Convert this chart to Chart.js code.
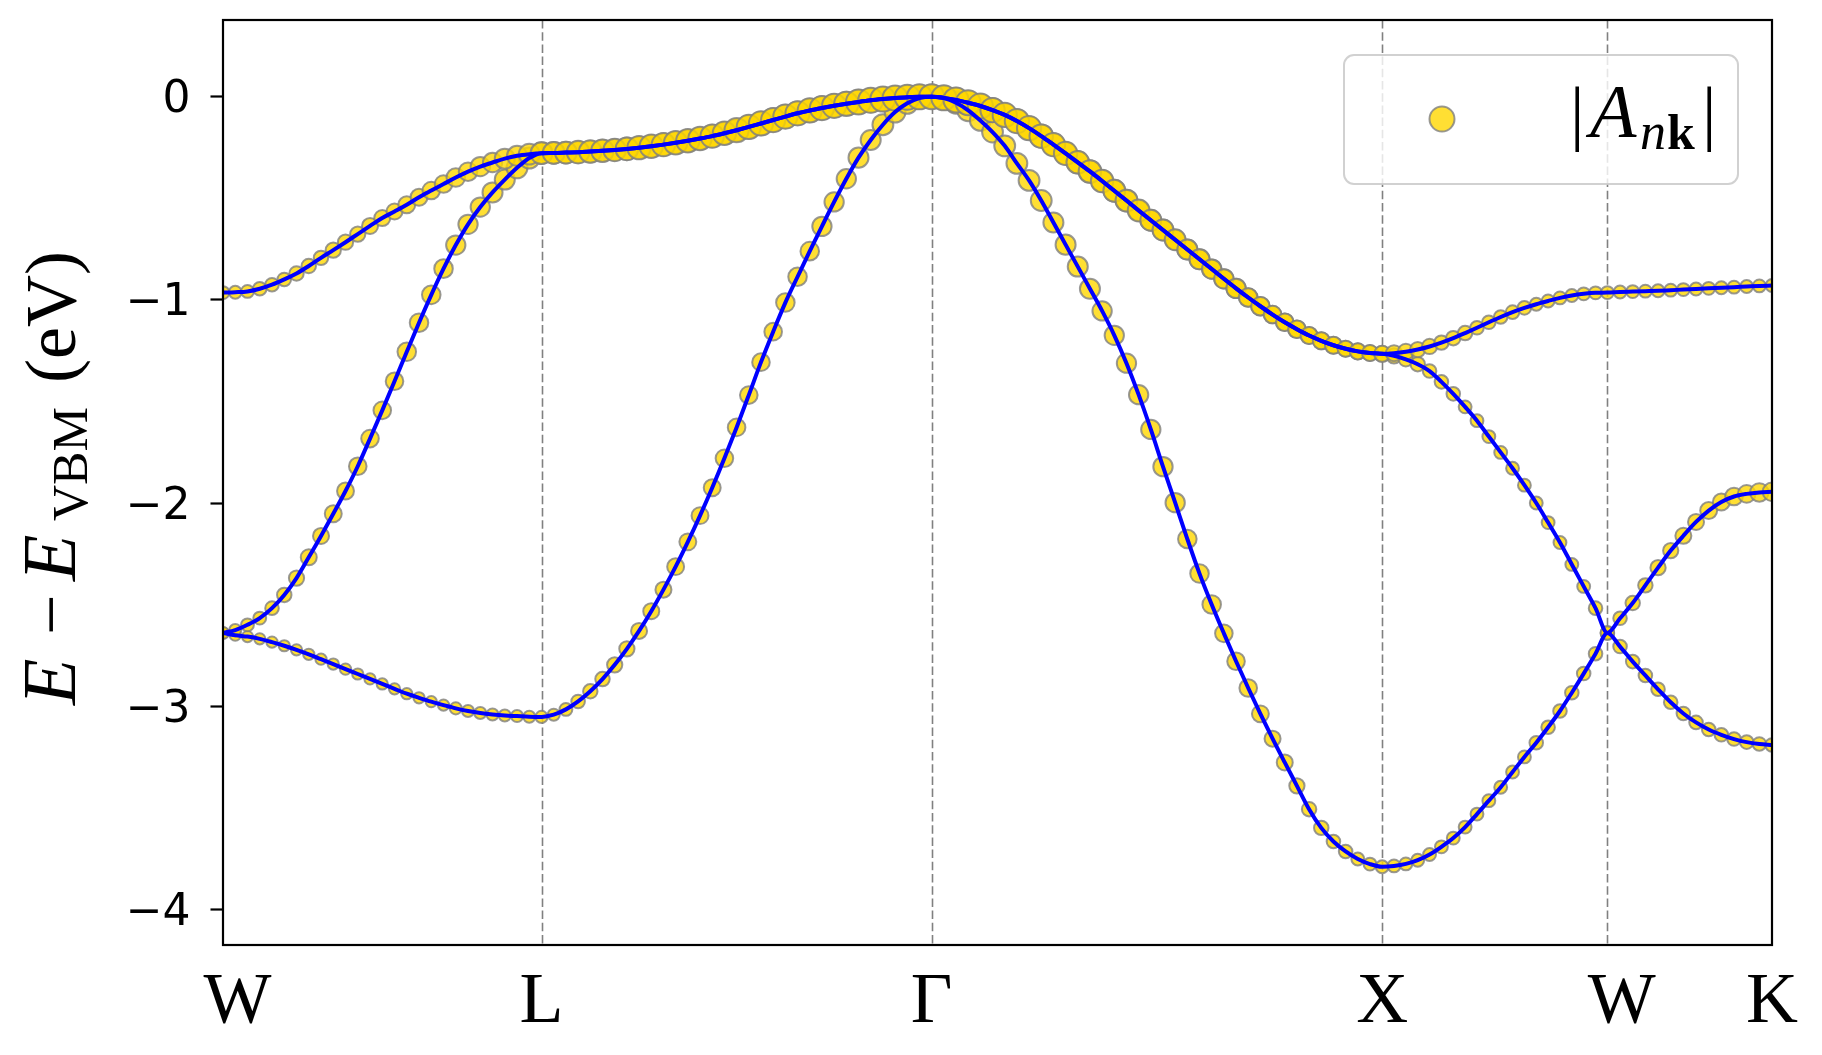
<!DOCTYPE html>
<html>
<head>
<meta charset="utf-8">
<title>Band structure</title>
<script src="https://cdn.jsdelivr.net/npm/chart.js@4.4.1/dist/chart.umd.min.js"></script>
<style>
  html, body { margin: 0; padding: 0; background: #fff; }
  canvas { display: block; }
</style>
</head>
<body>
<canvas id="bands" width="1822" height="1055"></canvas>
<script>
// high-symmetry path W-L-G-X-W-K, distances in 2pi/a
const pathLabels = ['\u2009\u2009W', 'L', '\u0393', 'X', '\u2009\u2009W', 'K'];
const pathTicks = [0, 0.7071, 1.5731, 2.5731, 3.0731, 3.4385];
const segmentSteps = [26, 32, 37, 19, 13];
const yTickValues = [-4, -3, -2, -1, 0];

// E - E_VBM (eV) along the path, lowest band first
const band1 = [
  -2.638, -2.649, -2.656, -2.667, -2.683, -2.701, -2.721, -2.743, -2.767, -2.791, -2.816, -2.840, -2.864, -2.889,
  -2.913, -2.937, -2.957, -2.976, -2.993, -3.009, -3.022, -3.032, -3.039, -3.044, -3.047, -3.050, -3.051,
  -3.040, -3.014, -2.975, -2.925, -2.865, -2.795, -2.716, -2.628, -2.531, -2.425, -2.312, -2.190, -2.061, -1.924,
  -1.779, -1.627, -1.468, -1.306, -1.156, -1.013, -0.886, -0.760, -0.638, -0.518, -0.404, -0.300, -0.213, -0.138,
  -0.076, -0.033, -0.007, 0.000,
  -0.007, -0.030, -0.067, -0.117, -0.174, -0.242, -0.328, -0.412, -0.511, -0.619, -0.728, -0.836, -0.945, -1.054,
  -1.174, -1.311, -1.466, -1.637, -1.820, -1.997, -2.176, -2.346, -2.498, -2.640, -2.777, -2.909, -3.036, -3.158,
  -3.275, -3.390, -3.505, -3.597, -3.664, -3.713, -3.750, -3.775, -3.788,
  -3.784, -3.774, -3.756, -3.728, -3.690, -3.647, -3.593, -3.529, -3.463, -3.397, -3.322, -3.248, -3.178, -3.102,
  -3.022, -2.932, -2.838, -2.740, -2.638,
  -2.705, -2.779, -2.847, -2.915, -2.979, -3.034, -3.078, -3.113, -3.139, -3.160, -3.175, -3.184, -3.189
];
const band2 = [
  -2.638, -2.624, -2.598, -2.565, -2.516, -2.451, -2.368, -2.266, -2.161, -2.052, -1.940, -1.818, -1.682, -1.543,
  -1.400, -1.255, -1.112, -0.975, -0.846, -0.730, -0.628, -0.543, -0.471, -0.408, -0.350, -0.302, -0.278,
  -0.277, -0.275, -0.273, -0.270, -0.266, -0.262, -0.257, -0.251, -0.244, -0.236, -0.227, -0.217, -0.206, -0.194,
  -0.180, -0.165, -0.149, -0.132, -0.115, -0.098, -0.082, -0.068, -0.056, -0.045, -0.035, -0.026, -0.018, -0.012,
  -0.007, -0.003, -0.001, 0.000,
  -0.006, -0.016, -0.030, -0.046, -0.066, -0.090, -0.120, -0.155, -0.194, -0.236, -0.279, -0.323, -0.368, -0.415,
  -0.463, -0.511, -0.560, -0.608, -0.656, -0.704, -0.752, -0.800, -0.848, -0.896, -0.943, -0.988, -1.031, -1.072,
  -1.110, -1.144, -1.175, -1.201, -1.223, -1.240, -1.253, -1.261, -1.265,
  -1.275, -1.292, -1.316, -1.350, -1.403, -1.462, -1.526, -1.594, -1.672, -1.750, -1.828, -1.911, -1.999, -2.095,
  -2.193, -2.301, -2.409, -2.516, -2.638,
  -2.566, -2.491, -2.404, -2.317, -2.233, -2.160, -2.092, -2.036, -1.994, -1.967, -1.954, -1.947, -1.944
];
const band3 = [
  -0.964, -0.962, -0.958, -0.945, -0.925, -0.899, -0.870, -0.833, -0.793, -0.755, -0.716, -0.676, -0.636, -0.597,
  -0.565, -0.532, -0.495, -0.462, -0.430, -0.398, -0.369, -0.344, -0.324, -0.305, -0.291, -0.283, -0.278,
  -0.277, -0.275, -0.273, -0.270, -0.266, -0.262, -0.257, -0.251, -0.244, -0.236, -0.227, -0.217, -0.206, -0.194,
  -0.180, -0.165, -0.149, -0.132, -0.115, -0.098, -0.082, -0.068, -0.056, -0.045, -0.035, -0.026, -0.018, -0.012,
  -0.007, -0.003, -0.001, 0.000,
  -0.006, -0.016, -0.030, -0.046, -0.066, -0.090, -0.120, -0.155, -0.194, -0.236, -0.279, -0.323, -0.368, -0.415,
  -0.463, -0.511, -0.560, -0.608, -0.656, -0.704, -0.752, -0.800, -0.848, -0.896, -0.943, -0.988, -1.031, -1.072,
  -1.110, -1.144, -1.175, -1.201, -1.223, -1.240, -1.253, -1.261, -1.265,
  -1.262, -1.255, -1.244, -1.229, -1.210, -1.188, -1.163, -1.137, -1.110, -1.084, -1.060, -1.039, -1.021, -1.005,
  -0.990, -0.978, -0.970, -0.965, -0.964,
  -0.961, -0.959, -0.957, -0.955, -0.952, -0.949, -0.946, -0.943, -0.940, -0.937, -0.934, -0.931, -0.929
];

// |A_nk| at the same k-points
const weight1 = [
  0.14, 0.14, 0.14, 0.14, 0.14, 0.14, 0.14, 0.14, 0.14, 0.14, 0.14, 0.14, 0.14, 0.14, 0.14, 0.14, 0.14, 0.14, 0.14,
  0.17, 0.17, 0.17, 0.17, 0.17, 0.17, 0.17, 0.17,
  0.17, 0.20, 0.23, 0.27, 0.27, 0.31, 0.31, 0.35, 0.35, 0.35, 0.40, 0.40, 0.40, 0.40, 0.44, 0.44, 0.44, 0.44, 0.44,
  0.50, 0.50, 0.50, 0.55, 0.55, 0.55, 0.60, 0.60, 0.66, 0.66, 0.66, 0.73, 0.73,
  0.73, 0.73, 0.73, 0.66, 0.66, 0.66, 0.66, 0.66, 0.66, 0.60, 0.60, 0.60, 0.60, 0.55, 0.55, 0.55, 0.55, 0.55, 0.55,
  0.55, 0.50, 0.50, 0.50, 0.44, 0.44, 0.44, 0.40, 0.35, 0.35, 0.31, 0.27, 0.27, 0.23, 0.23, 0.20, 0.20, 0.20,
  0.20, 0.20, 0.20, 0.20, 0.20, 0.20, 0.20, 0.20, 0.20, 0.20, 0.20, 0.20, 0.23, 0.23, 0.23, 0.23, 0.23, 0.23, 0.23,
  0.23, 0.23, 0.23, 0.23, 0.23, 0.23, 0.23, 0.23, 0.23, 0.23, 0.23, 0.23, 0.23
];
const weight2 = [
  0.17, 0.17, 0.20, 0.20, 0.23, 0.27, 0.31, 0.35, 0.35, 0.40, 0.40, 0.44, 0.44, 0.44, 0.44, 0.50, 0.50, 0.50, 0.50,
  0.55, 0.55, 0.55, 0.60, 0.60, 0.66, 0.66, 0.73,
  0.73, 0.73, 0.73, 0.73, 0.73, 0.73, 0.79, 0.79, 0.79, 0.79, 0.79, 0.79, 0.79, 0.79, 0.79, 0.79, 0.86, 0.86, 0.86,
  0.86, 0.86, 0.86, 0.86, 0.86, 0.93, 0.93, 0.93, 0.93, 0.93, 0.93, 0.93, 0.93,
  0.93, 0.93, 0.93, 0.93, 0.93, 0.86, 0.86, 0.86, 0.86, 0.79, 0.79, 0.79, 0.79, 0.73, 0.73, 0.73, 0.66, 0.66, 0.66,
  0.60, 0.60, 0.60, 0.55, 0.55, 0.55, 0.50, 0.50, 0.44, 0.44, 0.44, 0.40, 0.40, 0.40, 0.35, 0.35, 0.35, 0.35,
  0.31, 0.27, 0.27, 0.23, 0.23, 0.23, 0.20, 0.20, 0.20, 0.20, 0.20, 0.20, 0.20, 0.20, 0.20, 0.20, 0.20, 0.23, 0.23,
  0.23, 0.27, 0.27, 0.31, 0.31, 0.35, 0.35, 0.40, 0.40, 0.44, 0.44, 0.50, 0.50
];
const weight3 = [
  0.20, 0.20, 0.20, 0.23, 0.23, 0.23, 0.27, 0.27, 0.27, 0.31, 0.31, 0.31, 0.35, 0.35, 0.35, 0.40, 0.40, 0.44, 0.44,
  0.50, 0.50, 0.55, 0.55, 0.60, 0.60, 0.66, 0.73,
  0.73, 0.73, 0.79, 0.79, 0.79, 0.79, 0.79, 0.86, 0.86, 0.86, 0.86, 0.86, 0.86, 0.86, 0.86, 0.93, 0.93, 0.93, 0.93,
  0.93, 0.93, 0.93, 0.93, 0.93, 0.93, 1.00, 1.00, 1.00, 1.00, 1.00, 1.00, 1.00,
  1.00, 1.00, 1.00, 1.00, 0.93, 0.93, 0.93, 0.93, 0.86, 0.86, 0.86, 0.79, 0.79, 0.79, 0.73, 0.73, 0.73, 0.66, 0.66,
  0.66, 0.60, 0.60, 0.55, 0.55, 0.55, 0.50, 0.50, 0.44, 0.44, 0.44, 0.40, 0.40, 0.40, 0.35, 0.35, 0.35, 0.35,
  0.35, 0.35, 0.31, 0.31, 0.27, 0.27, 0.27, 0.23, 0.23, 0.23, 0.23, 0.23, 0.20, 0.20, 0.20, 0.20, 0.20, 0.20, 0.20,
  0.20, 0.20, 0.20, 0.20, 0.20, 0.20, 0.20, 0.20, 0.20, 0.20, 0.20, 0.20, 0.20
];

// k-point grid: evenly spaced inside every segment of the path
const kPoints = [pathTicks[0]];
segmentSteps.forEach((n, s) => {
  const k0 = pathTicks[s], k1 = pathTicks[s + 1];
  for (let i = 1; i <= n; i++) kPoints.push(k0 + (k1 - k0) * i / n);
});

const bands = [band1, band2, band3];
const weights = [weight1, weight2, weight3];

const gold = 'rgba(255, 215, 0, 0.8)';
const edge = 'rgba(128, 128, 128, 0.8)';
const serif = '"Liberation Serif", "DejaVu Serif", serif';

const toPoints = band => band.map((e, i) => ({ x: kPoints[i], y: e }));
const radiusFor = w => 1.5 + 11 * Math.sqrt(w);

const markerSets = bands.map((b, n) => ({
  data: toPoints(b),
  showLine: false,
  pointRadius: weights[n].map(radiusFor),
  pointBackgroundColor: gold,
  pointBorderColor: edge,
  pointBorderWidth: 2,
  order: 5 - n,
  clip: 0
}));

const lineSets = bands.map(b => ({
  data: toPoints(b),
  showLine: true,
  borderColor: '#0000ff',
  borderWidth: 4,
  pointRadius: 0,
  cubicInterpolationMode: 'monotone',
  order: 1,
  clip: 0
}));

// dashed lines at the inner high-symmetry points
const kLines = {
  id: 'kLines',
  beforeDatasetsDraw(chart) {
    const { ctx, chartArea: a } = chart;
    const xs = chart.scales.x;
    ctx.save();
    ctx.strokeStyle = '#808080';
    ctx.lineWidth = 1.6;
    ctx.setLineDash([8.5, 3.7]);
    pathTicks.slice(1, -1).forEach(k => {
      const px = Math.round(xs.getPixelForValue(k)) + 0.5;
      ctx.beginPath();
      ctx.moveTo(px, a.top);
      ctx.lineTo(px, a.bottom);
      ctx.stroke();
    });
    ctx.restore();
  }
};

const frame = {
  id: 'frame',
  afterDraw(chart) {
    const { ctx, chartArea: a } = chart;
    ctx.save();
    ctx.strokeStyle = '#000';
    ctx.lineWidth = 2.2;
    ctx.strokeRect(a.left, a.top, a.right - a.left, a.bottom - a.top);
    ctx.restore();
  }
};

// y title: E - E_VBM (eV), rotated
const axisTitle = {
  id: 'axisTitle',
  afterDraw(chart) {
    const ctx = chart.ctx;
    const parts = [
      { text: 'E', font: `italic 76px ${serif}`, at: 0, dy: 0 },
      { text: '\u2212', font: `72px ${serif}`, at: 70, dy: 0 },
      { text: 'E', font: `italic 76px ${serif}`, at: 124, dy: 0 },
      { text: 'VBM', font: `50px ${serif}`, at: 184, dy: 12 },
      { text: '(eV)', font: `72px ${serif}`, at: 322, dy: 0 }
    ];
    ctx.save();
    ctx.translate(75, 705);
    ctx.rotate(-Math.PI / 2);
    ctx.fillStyle = '#000';
    ctx.textBaseline = 'alphabetic';
    parts.forEach(p => {
      ctx.font = p.font;
      ctx.fillText(p.text, p.at, p.dy);
    });
    ctx.restore();
  }
};

const legendBox = {
  id: 'legendBox',
  afterDraw(chart) {
    const ctx = chart.ctx;
    ctx.save();
    ctx.beginPath();
    ctx.roundRect(1344, 55, 394, 129, 10);
    ctx.fillStyle = 'rgba(255, 255, 255, 0.8)';
    ctx.fill();
    ctx.lineWidth = 2;
    ctx.strokeStyle = 'rgba(204, 204, 204, 0.9)';
    ctx.stroke();

    ctx.beginPath();
    ctx.arc(1442, 119, 12.5, 0, Math.PI * 2);
    ctx.fillStyle = gold;
    ctx.fill();
    ctx.strokeStyle = edge;
    ctx.lineWidth = 2;
    ctx.stroke();

    const parts = [
      { text: '|', font: `72px ${serif}`, at: 1570, dy: 0 },
      { text: 'A', font: `italic 76px ${serif}`, at: 1590, dy: 0 },
      { text: 'n', font: `italic 52px ${serif}`, at: 1640, dy: 12 },
      { text: 'k', font: `bold 50px ${serif}`, at: 1667, dy: 12 },
      { text: '|', font: `72px ${serif}`, at: 1702, dy: 0 }
    ];
    ctx.fillStyle = '#000';
    ctx.textBaseline = 'alphabetic';
    parts.forEach(p => {
      ctx.font = p.font;
      ctx.fillText(p.text, p.at, 137 + p.dy);
    });
    ctx.restore();
  }
};

new Chart(document.getElementById('bands'), {
  type: 'scatter',
  data: { datasets: [...lineSets, ...markerSets] },
  options: {
    responsive: false,
    animation: false,
    devicePixelRatio: 1,
    events: [],
    layout: { padding: { left: 0, right: 50, top: 20, bottom: 0 } },
    plugins: { legend: { display: false }, tooltip: { enabled: false } },
    scales: {
      x: {
        type: 'linear',
        min: pathTicks[0],
        max: pathTicks[pathTicks.length - 1],
        afterBuildTicks: scale => { scale.ticks = pathTicks.map(v => ({ value: v })); },
        afterFit: scale => {
          scale.height = 110;
          scale.paddingLeft = 0;
          scale.paddingRight = 0;
        },
        grid: { display: false, drawTicks: false },
        border: { display: false },
        ticks: {
          autoSkip: false,
          maxRotation: 0,
          padding: 22,
          color: '#000',
          font: { family: 'Liberation Serif', size: 72, lineHeight: 1 },
          callback: (value, index) => pathLabels[index]
        }
      },
      y: {
        type: 'linear',
        min: -4.173,
        max: 0.377,
        afterBuildTicks: scale => { scale.ticks = yTickValues.map(v => ({ value: v })); },
        afterFit: scale => {
          scale.width = 223;
          scale.paddingTop = 0;
          scale.paddingBottom = 0;
        },
        grid: {
          drawOnChartArea: false,
          drawTicks: true,
          tickLength: 12.5,
          tickWidth: 2.2,
          tickColor: '#000'
        },
        border: { display: false },
        ticks: {
          padding: 20,
          labelOffset: 4,
          color: '#000',
          font: { family: 'DejaVu Sans', size: 44 },
          callback: v => (v < 0 ? '\u2212' + Math.abs(v) : String(v))
        }
      }
    }
  },
  plugins: [kLines, frame, axisTitle, legendBox]
});
</script>
</body>
</html>
